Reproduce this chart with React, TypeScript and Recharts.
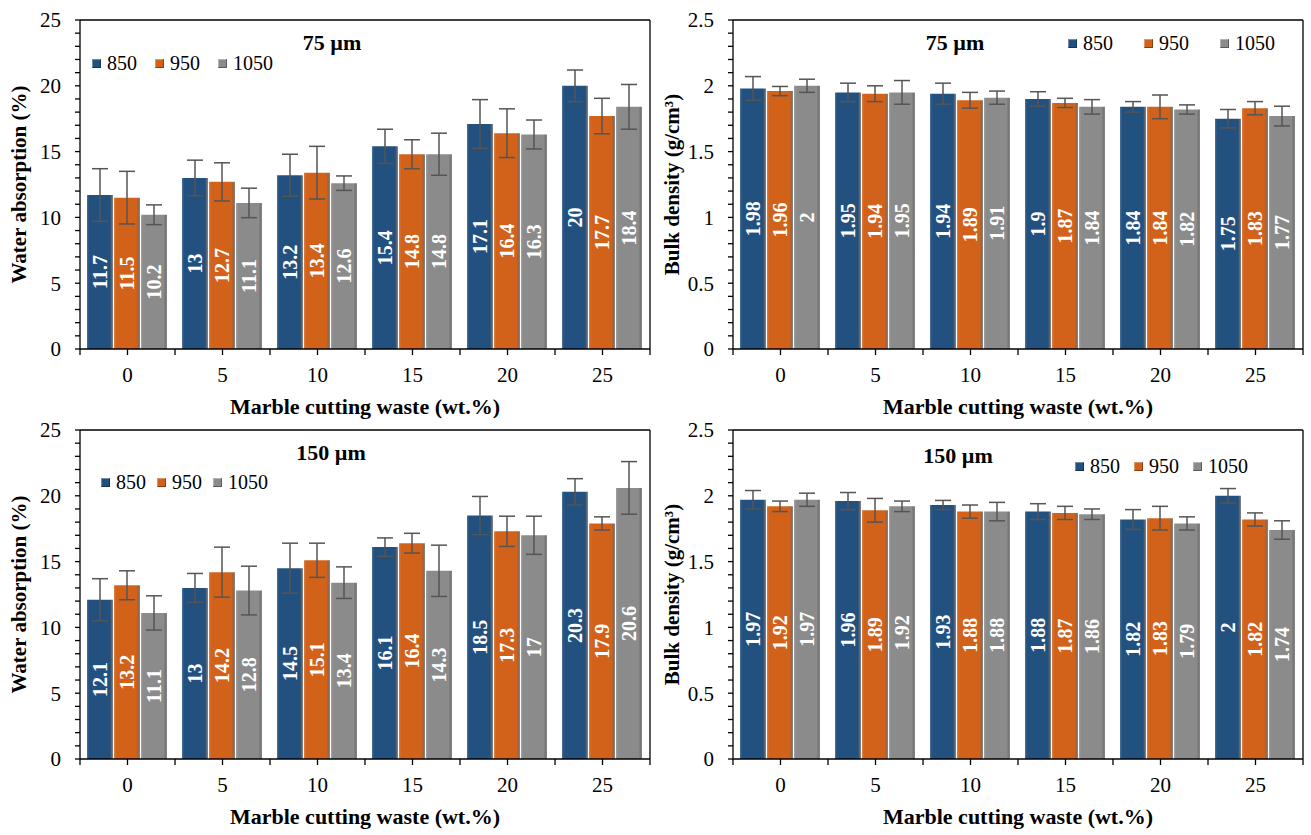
import React from 'react';
import { BarChart, Bar, XAxis, YAxis, ErrorBar, LabelList } from 'recharts';

const categories = ['0', '5', '10', '15', '20', '25'];
const seriesNames = ['850', '950', '1050'];

// water absorption, 75 µm
const wa75_850 = [11.7, 13, 13.2, 15.4, 17.1, 20];
const wa75_950 = [11.5, 12.7, 13.4, 14.8, 16.4, 17.7];
const wa75_1050 = [10.2, 11.1, 12.6, 14.8, 16.3, 18.4];
const wa75_850_err = [2.0, 1.35, 1.6, 1.3, 1.85, 1.2];
const wa75_950_err = [2.0, 1.45, 2.0, 1.1, 1.85, 1.35];
const wa75_1050_err = [0.75, 1.12, 0.55, 1.6, 1.1, 1.7];

// bulk density, 75 µm
const bd75_850 = [1.98, 1.95, 1.94, 1.9, 1.84, 1.75];
const bd75_950 = [1.96, 1.94, 1.89, 1.87, 1.84, 1.83];
const bd75_1050 = [2, 1.95, 1.91, 1.84, 1.82, 1.77];
const bd75_850_err = [0.09, 0.07, 0.08, 0.055, 0.04, 0.07];
const bd75_950_err = [0.035, 0.06, 0.06, 0.035, 0.09, 0.05];
const bd75_1050_err = [0.05, 0.09, 0.05, 0.055, 0.035, 0.075];

// water absorption, 150 µm
const wa150_850 = [12.1, 13, 14.5, 16.1, 18.5, 20.3];
const wa150_950 = [13.2, 14.2, 15.1, 16.4, 17.3, 17.9];
const wa150_1050 = [11.1, 12.8, 13.4, 14.3, 17, 20.6];
const wa150_850_err = [1.6, 1.1, 1.9, 0.7, 1.45, 1.0];
const wa150_950_err = [1.1, 1.9, 1.3, 0.75, 1.15, 0.5];
const wa150_1050_err = [1.3, 1.85, 1.2, 1.95, 1.45, 2.0];

// bulk density, 150 µm
const bd150_850 = [1.97, 1.96, 1.93, 1.88, 1.82, 2];
const bd150_950 = [1.92, 1.89, 1.88, 1.87, 1.83, 1.82];
const bd150_1050 = [1.97, 1.92, 1.88, 1.86, 1.79, 1.74];
const bd150_850_err = [0.07, 0.065, 0.035, 0.06, 0.075, 0.055];
const bd150_950_err = [0.04, 0.09, 0.05, 0.05, 0.09, 0.05];
const bd150_1050_err = [0.05, 0.04, 0.07, 0.04, 0.05, 0.07];

const waTicks = [0, 1, 2, 3, 4, 5, 6, 7, 8, 9, 10, 11, 12, 13, 14, 15, 16, 17, 18, 19, 20, 21, 22, 23, 24, 25];
const waLabels = [0, 5, 10, 15, 20, 25];
const bdTicks = [0, 0.1, 0.2, 0.3, 0.4, 0.5, 0.6, 0.7, 0.8, 0.9, 1, 1.1, 1.2, 1.3, 1.4, 1.5, 1.6, 1.7, 1.8, 1.9, 2, 2.1, 2.2, 2.3, 2.4, 2.5];
const bdLabels = [0, 0.5, 1, 1.5, 2, 2.5];

const FONT = "'Liberation Serif', 'Times New Roman', serif";
const COLORS = ['#22507f', '#d2621a', '#8b8b8b'];
const GRADS = ['gBlue', 'gOrange', 'gGray'];

const W = 655;
const H = 420;
const M = { top: 19, right: 4, left: 8, bottom: 0 };
const Y_W = 72;
const X_H = 71;
const PLOT_W = W - M.left - M.right - Y_W - 1;
const HALF_BAND = PLOT_W / categories.length / 2;
const X_TICK_SIZE = 6;
const X_TICK_MARGIN = 14;

const makeRows = (a: number[], b: number[], c: number[], ea: number[], eb: number[], ec: number[]) =>
  categories.map((cat, i) => ({ cat, t850: a[i], t950: b[i], t1050: c[i], e850: ea[i], e950: eb[i], e1050: ec[i] }));

const XTick = (props: any) => {
  const { x, y, payload, index } = props;
  const axisY = y - X_TICK_SIZE - X_TICK_MARGIN;
  return <g>
      <line x1={x - HALF_BAND} x2={x - HALF_BAND} y1={axisY} y2={axisY + X_TICK_SIZE} stroke="#000" strokeWidth={1.3} />
      {index === categories.length - 1 && <line x1={x + HALF_BAND} x2={x + HALF_BAND} y1={axisY} y2={axisY + X_TICK_SIZE} stroke="#000" strokeWidth={1.3} />}
      <text x={x} y={y} dy="0.62em" textAnchor="middle" fontSize={21} fontFamily={FONT} fill="#000">{payload.value}</text>
    </g>;
};

interface LegendBoxProps {
  x: number;
  y: number;
  gap: number;
}
const LegendBox = ({ x, y, gap }: LegendBoxProps) => <div style={{ position: 'absolute', left: x, top: y, display: 'flex', alignItems: 'center', fontFamily: FONT, fontSize: 20, color: '#000', lineHeight: '22px' }}>
    {seriesNames.map((n, i) => <div key={n} style={{ display: 'flex', alignItems: 'center', marginRight: i < 2 ? gap : 0 }}>
        <span style={{ display: 'inline-block', width: 9, height: 9, marginRight: 6, background: COLORS[i], boxShadow: 'inset -1px -1px 0 rgba(0,0,0,0.35), inset 1px 1px 0 rgba(255,255,255,0.35)' }} />
        <span>{n}</span>
      </div>)}
  </div>;

interface PanelProps {
  left: number;
  top: number;
  data: any[];
  yMax: number;
  ticks: number[];
  labels: number[];
  yLabel: string;
  title: string;
  titleX: number;
  titleY: number;
  legendX: number;
  legendY: number;
  legendGap: number;
}
const Panel = (p: PanelProps) => {
  const axisStyle = { stroke: '#000', strokeWidth: 1.3 };
  return <div style={{ position: 'absolute', left: p.left, top: p.top, width: W, height: H, fontFamily: FONT }}>
      <BarChart width={W} height={H} data={p.data} margin={M} barCategoryGap={7} barGap={1}>
        <XAxis xAxisId="top" orientation="top" dataKey="cat" height={1} tick={false} tickLine={false} axisLine={axisStyle} />
        <XAxis dataKey="cat" height={X_H} tickSize={X_TICK_SIZE} tickMargin={X_TICK_MARGIN} tickLine={axisStyle} axisLine={axisStyle} tick={<XTick />} interval={0} label={{
        value: 'Marble cutting waste (wt.%)',
        position: 'insideBottom',
        offset: 6,
        style: { fontFamily: FONT, fontSize: 22, fontWeight: 'bold', fill: '#000' }
      }} />
        <YAxis yAxisId="left" width={Y_W} domain={[0, p.yMax]} ticks={p.ticks} interval={0} tickSize={5} tickMargin={14} tickLine={axisStyle} axisLine={axisStyle} tick={{ fontSize: 21, fontFamily: FONT, fill: '#000' }} tickFormatter={(v: number) => p.labels.some(l => Math.abs(l - v) < 1e-6) ? String(v) : ''} label={{
        value: p.yLabel,
        angle: -90,
        position: 'insideLeft',
        offset: 11,
        style: { textAnchor: 'middle', fontFamily: FONT, fontSize: 21, fontWeight: 'bold', fill: '#000' }
      }} />
        <YAxis yAxisId="right" orientation="right" width={1} domain={[0, p.yMax]} tick={false} tickLine={false} axisLine={axisStyle} />
        {seriesNames.map((n, i) => <Bar key={n} yAxisId="left" dataKey={'t' + n} name={n} fill={`url(#${GRADS[i]})`} isAnimationActive={false}>
            <ErrorBar dataKey={'e' + n} direction="y" width={8} stroke="#555" strokeWidth={1.5} />
            <LabelList dataKey={'t' + n} position="center" angle={-90} fill="#fff" fontSize={20} fontWeight="bold" fontFamily={FONT} />
          </Bar>)}
      </BarChart>
      <LegendBox x={p.legendX} y={p.legendY} gap={p.legendGap} />
      <div style={{ position: 'absolute', left: p.titleX - 60, top: p.titleY - 13, width: 120, textAlign: 'center', fontFamily: FONT, fontSize: 22, fontWeight: 'bold', lineHeight: '26px' }}>{p.title}</div>
    </div>;
};

const App = () => {
  return <div style={{ position: 'absolute', left: 0, top: 0, width: 1311, height: 835, background: '#fff', overflow: 'hidden' }}>
      <svg width={0} height={0} style={{ position: 'absolute' }}>
        <defs>
          {COLORS.map((c, i) => <linearGradient key={c} id={GRADS[i]} x1="0" y1="0" x2="1" y2="0">
              <stop offset="0" stopColor={c} stopOpacity={0.8} />
              <stop offset="0.08" stopColor={c} />
              <stop offset="0.88" stopColor={c} />
              <stop offset="1" stopColor="#000" stopOpacity={0.45} />
            </linearGradient>)}
        </defs>
      </svg>
      <Panel left={0} top={0} data={makeRows(wa75_850, wa75_950, wa75_1050, wa75_850_err, wa75_950_err, wa75_1050_err)} yMax={25} ticks={waTicks} labels={waLabels} yLabel="Water absorption (%)" title="75 µm" titleX={332} titleY={43} legendX={92} legendY={52} legendGap={18} />
      <Panel left={653} top={0} data={makeRows(bd75_850, bd75_950, bd75_1050, bd75_850_err, bd75_950_err, bd75_1050_err)} yMax={2.5} ticks={bdTicks} labels={bdLabels} yLabel="Bulk density (g/cm³)" title="75 µm" titleX={302} titleY={43} legendX={415} legendY={32} legendGap={31} />
      <Panel left={0} top={410} data={makeRows(wa150_850, wa150_950, wa150_1050, wa150_850_err, wa150_950_err, wa150_1050_err)} yMax={25} ticks={waTicks} labels={waLabels} yLabel="Water absorption (%)" title="150 µm" titleX={331} titleY={43} legendX={101} legendY={61} legendGap={11} />
      <Panel left={653} top={410} data={makeRows(bd150_850, bd150_950, bd150_1050, bd150_850_err, bd150_950_err, bd150_1050_err)} yMax={2.5} ticks={bdTicks} labels={bdLabels} yLabel="Bulk density (g/cm³)" title="150 µm" titleX={305} titleY={46} legendX={422} legendY={45} legendGap={14} />
    </div>;
};

export default App;
